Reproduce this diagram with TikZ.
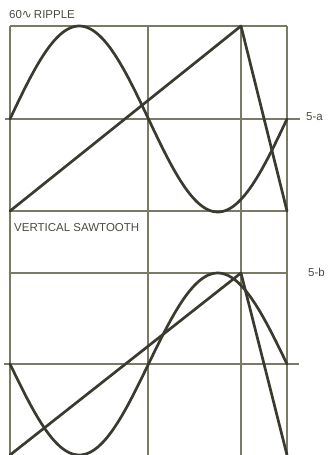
\documentclass[tikz,border=0pt]{standalone}
\usepackage{fontspec}
\setmainfont{Liberation Sans}
\newfontfamily\symfont{DejaVu Sans}
\definecolor{gridc}{HTML}{7A7A66}
\definecolor{curvec}{HTML}{3A3A30}
\definecolor{textc}{HTML}{4A4A40}
\begin{document}
\begin{tikzpicture}[x=1pt,y=-1pt,
  gridline/.style={draw=gridc,line width=1.1pt},
  curve/.style={draw=curvec,line width=2.7pt,line join=round,line cap=round},
  lbl/.style={text=textc,font=\fontsize{11.5}{13}\selectfont,inner sep=0pt}]
\useasboundingbox (0,0) rectangle (330,455);
% grid
\foreach \xx in {10,148,241,287} \draw[gridline] (\xx,26) -- (\xx,455);
\foreach \yy in {26,211,273} \draw[gridline] (10,\yy) -- (287,\yy);
\draw[gridline] (5,119) -- (300,119);
\draw[gridline] (4,364) -- (299,364);
% top panel
\coordinate (a0) at (10,211);
\coordinate (a1) at (241,26);
\coordinate (a2) at (287,211);
\draw[curve] plot[domain=0:277,samples=120,smooth] ({\x+10},{119-93*sin(1.2996*\x)});
\draw[curve] (a0) -- (a1) -- (a2);
% bottom panel
\coordinate (b0) at (10,455);
\coordinate (b1) at (241,273);
\coordinate (b2) at (287,455);
\draw[curve] plot[domain=0:277,samples=120,smooth] ({\x+10},{364+91*sin(1.2996*\x)});
\draw[curve] (b0) -- (b1) -- (b2);
% labels
\node[lbl,anchor=west] (t1) at (9,15) {60{\symfont\fontsize{12}{13}\selectfont ∿}\,RIPPLE};
\node[lbl,anchor=west] (t2) at (14,228) {VERTICAL SAWTOOTH};
\node[lbl,anchor=west] (t3) at (306,117) {5-a};
\node[lbl,anchor=west] (t4) at (308,272) {5-b};
\end{tikzpicture}
\end{document}
